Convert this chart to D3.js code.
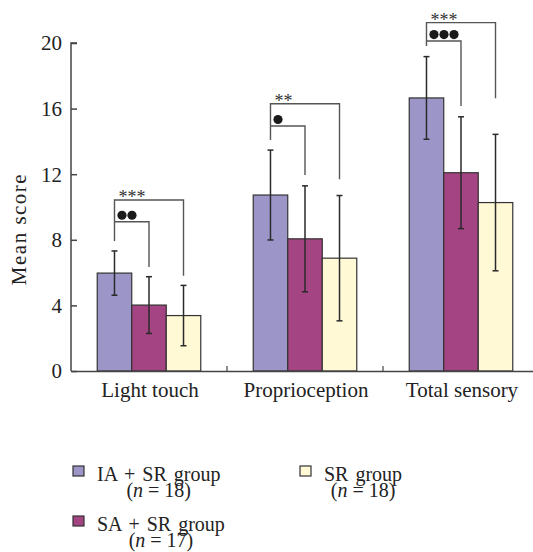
<!DOCTYPE html>
<html><head><meta charset="utf-8">
<script src="https://cdn.jsdelivr.net/npm/d3@7"></script>
<style>
html,body{margin:0;padding:0;background:#fff;}
svg{display:block;font-family:"Liberation Serif","Times New Roman",serif;}
</style></head>
<body>
<svg id="chart" width="533" height="552"></svg>
<script>
// ---- data ----
const categories = ["Light touch", "Proprioception", "Total sensory"];
const groups = ["IA + SR group", "SA + SR group", "SR group"];
const groupN = [18, 17, 18];
const groupColors = ["#9c95c8", "#a54483", "#fff9d6"];
const meanIA = [5.97, 10.73, 16.65];
const sdIA   = [1.35, 2.74, 2.52];
const meanSA = [4.02, 8.06, 12.09];
const sdSA   = [1.73, 3.23, 3.41];
const meanSR = [3.38, 6.88, 10.27];
const sdSR   = [1.84, 3.82, 4.16];
const yTicks = [0, 4, 8, 12, 16, 20];
// significance brackets (data units)
const outerLevel = [10.43, 16.30, 21.24];
const innerLevel = [9.10, 14.94, 20.12];
const leftEnd    = [7.93, 14.09, 19.82];
const innerEnd   = [6.34, 11.95, 16.16];
const outerEnd   = [5.81, 11.69, 16.63];
const outerLabel = ["***", "**", "***"];
const innerDots  = [2, 1, 3];

const means = [meanIA, meanSA, meanSR];
const sds = [sdIA, sdSA, sdSR];

const svg = d3.select("#chart");
const y = d3.scaleLinear().domain([0, 20]).range([371, 43]);
const x0 = d3.scaleBand().domain(categories).range([71, 539]).padding(0);
const x1 = d3.scaleBand().domain(groups).range([0, x0.bandwidth()]).paddingInner(0).paddingOuter(0.76);

// bars
const rows = [];
categories.forEach((c, ci) => groups.forEach((g, gi) => rows.push({c, ci, g, gi, m: means[gi][ci], s: sds[gi][ci]})));

svg.append("g").selectAll("rect").data(rows).join("rect")
  .attr("x", d => x0(d.c) + x1(d.g))
  .attr("y", d => y(d.m))
  .attr("width", x1.bandwidth())
  .attr("height", d => y(0) - y(d.m))
  .attr("fill", d => groupColors[d.gi])
  .attr("stroke", "#333").attr("stroke-width", 1.2);

// error bars
const eb = svg.append("g").attr("stroke", "#2a2a2a").attr("stroke-width", 1.5);
rows.forEach(d => {
  const cx = x0(d.c) + x1(d.g) + x1.bandwidth() / 2;
  eb.append("line").attr("x1", cx).attr("x2", cx).attr("y1", y(d.m + d.s)).attr("y2", y(d.m - d.s));
  [d.m + d.s, d.m - d.s].forEach(v => eb.append("line").attr("x1", cx - 3).attr("x2", cx + 3).attr("y1", y(v)).attr("y2", y(v)));
});

// axes
const yAxis = svg.append("g").attr("transform", "translate(71,0)")
  .call(d3.axisRight(y).tickValues(yTicks).tickSize(6).tickFormat(""));
yAxis.select(".domain").attr("d", `M6,${y(20)}H0V${y(0)}`);
yAxis.selectAll("line,path").attr("stroke", "#444").attr("stroke-width", 1.5);
svg.append("g").selectAll("text").data(yTicks).join("text")
  .attr("x", 62).attr("y", d => y(d)).attr("dy", "0.35em")
  .attr("text-anchor", "end").attr("font-size", 21).attr("fill", "#222").text(d => d);

const xAxis = svg.append("g").attr("transform", `translate(0,${y(0)})`)
  .call(d3.axisBottom(x0).tickSize(0).tickFormat(""));
xAxis.select(".domain").attr("stroke", "#444").attr("stroke-width", 1.5);
svg.append("g").selectAll("line").data(categories.slice(1)).join("line")
  .attr("x1", d => x0(d)).attr("x2", d => x0(d))
  .attr("y1", y(0)).attr("y2", y(0) - 5)
  .attr("stroke", "#444").attr("stroke-width", 1.2);
svg.append("g").selectAll("text").data(categories).join("text")
  .attr("x", d => x0(d) + x0.bandwidth() / 2 + 1).attr("y", 397)
  .attr("text-anchor", "middle").attr("font-size", 21).attr("fill", "#222").text(d => d);

svg.append("text").attr("transform", "translate(26,229) rotate(-90)")
  .attr("text-anchor", "middle").attr("font-size", 21).attr("letter-spacing", 1.5)
  .attr("fill", "#222").text("Mean score");

// significance brackets
const br = svg.append("g");
categories.forEach((c, ci) => {
  const cx = gi => x0(c) + x1(groups[gi]) + x1.bandwidth() / 2;
  const g = br.append("g").attr("fill", "none").attr("stroke", "#555").attr("stroke-width", 1.4);
  g.append("path").attr("d", `M${cx(0)},${y(leftEnd[ci])}V${y(outerLevel[ci])}H${cx(2)}V${y(outerEnd[ci])}`);
  g.append("path").attr("d", `M${cx(0)},${y(innerLevel[ci])}H${cx(1)}V${y(innerEnd[ci])}`);
  br.append("text").attr("x", cx(0) + 4).attr("y", y(outerLevel[ci]) + 3)
    .attr("font-size", 18).attr("fill", "#333").text(outerLabel[ci]);
  br.append("g").selectAll("circle").data(d3.range(innerDots[ci])).join("circle")
    .attr("cx", k => cx(0) + 7.5 + k * 10).attr("cy", y(innerLevel[ci]) - 6.5)
    .attr("r", 4.6).attr("fill", "#1a1a1a");
});

// legend
const legendPos = [[73, 466], [73, 516], [300, 466]];
const lg = svg.append("g");
groups.forEach((g, gi) => {
  const [lx, ly] = legendPos[gi];
  lg.append("rect").attr("x", lx).attr("y", ly).attr("width", 11).attr("height", 10)
    .attr("fill", groupColors[gi]).attr("stroke", "#333").attr("stroke-width", 1.2);
  const t = lg.append("text").attr("x", lx + 24).attr("y", ly + 15)
    .attr("font-size", 20).attr("word-spacing", 2).attr("fill", "#222").text(g);
  const w = t.node().getComputedTextLength();
  const t2 = lg.append("text").attr("x", lx + 24 + w / 2).attr("y", ly + 31)
    .attr("text-anchor", "middle").attr("font-size", 20).attr("fill", "#222");
  t2.append("tspan").text("(");
  t2.append("tspan").attr("font-style", "italic").text("n");
  t2.append("tspan").text(" = " + groupN[gi] + ")");
});
</script>
</body></html>
